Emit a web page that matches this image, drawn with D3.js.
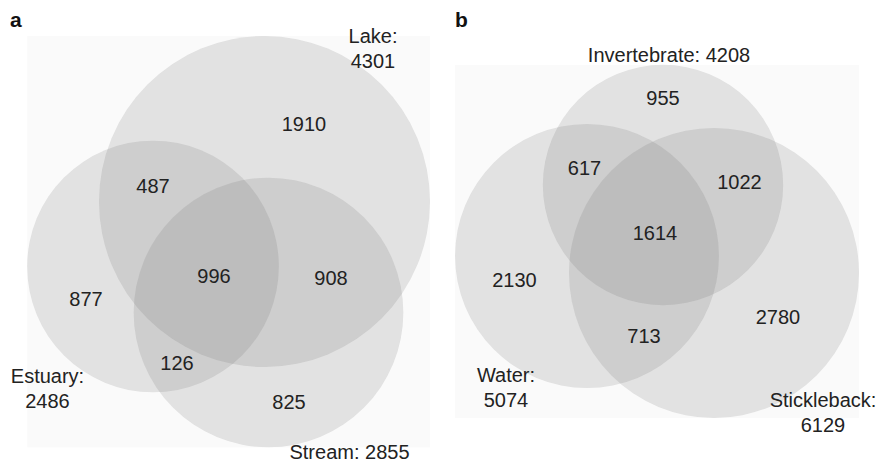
<!DOCTYPE html>
<html><head><meta charset="utf-8">
<script src="https://cdn.jsdelivr.net/npm/d3@7"></script>
<style>html,body{margin:0;padding:0;background:#fff;}svg{display:block;}</style>
</head><body>
<div id="chart"></div>
<script>
// ---- data ----
const setNamesA = ["Lake", "Estuary", "Stream"];
const setTotalsA = [4301, 2486, 2855];
const regionLabelsA = ["1910", "487", "996", "908", "877", "126", "825"];

const setNamesB = ["Invertebrate", "Water", "Stickleback"];
const setTotalsB = [4208, 5074, 6129];
const regionLabelsB = ["955", "617", "1022", "1614", "2130", "2780", "713"];

// ---- layout (positions only) ----
const W = 879, H = 463;
const panels = [
  {
    letter: "a", letterPos: [10, 27],
    names: setNamesA, totals: setTotalsA, regions: regionLabelsA,
    rMax: 165.5,
    centers: [[264.5, 201.5], [153, 266.5], [268.5, 312.5]],
    nameLabels: [
      {lines: ["Lake:", "4301"], x: 373, y: 43},
      {lines: ["Estuary:", "2486"], x: 47.5, y: 383},
      {lines: ["Stream: 2855"], x: 349.5, y: 459}
    ],
    regionPos: [[304, 131], [153, 193], [214, 283], [331, 285], [86, 306], [177, 370], [289, 409]]
  },
  {
    letter: "b", letterPos: [455, 27],
    names: setNamesB, totals: setTotalsB, regions: regionLabelsB,
    rMax: 145,
    centers: [[663, 185], [587, 256], [714, 273]],
    nameLabels: [
      {lines: ["Invertebrate: 4208"], x: 669, y: 62},
      {lines: ["Water:", "5074"], x: 506, y: 382},
      {lines: ["Stickleback:", "6129"], x: 823, y: 407}
    ],
    regionPos: [[663, 105], [584.5, 175], [739.5, 189], [655, 240], [514.5, 287], [778, 324], [644, 343]]
  }
];

const svg = d3.select("#chart").append("svg").attr("width", W).attr("height", H);
const FONT = "'Liberation Sans', Arial, Helvetica, sans-serif";

panels.forEach(p => {
  const g = svg.append("g");
  const r = d3.scaleSqrt().domain([0, d3.max(p.totals)]).range([0, p.rMax]);
  const circles = p.totals.map((t, i) => ({name: p.names[i], total: t, cx: p.centers[i][0], cy: p.centers[i][1], r: r(t)}));
  const x0 = d3.min(circles, c => c.cx - c.r), x1 = d3.max(circles, c => c.cx + c.r);
  const y0 = d3.min(circles, c => c.cy - c.r), y1 = d3.max(circles, c => c.cy + c.r);
  g.append("rect").attr("x", x0).attr("y", y0).attr("width", x1 - x0).attr("height", y1 - y0).attr("fill", "#fafafa");
  g.selectAll("circle").data(circles).join("circle")
    .attr("cx", d => d.cx).attr("cy", d => d.cy).attr("r", d => d.r)
    .attr("fill", "#68686d").attr("fill-opacity", 0.17);
  g.append("text").attr("x", p.letterPos[0]).attr("y", p.letterPos[1])
    .attr("font-family", FONT).attr("font-weight", "bold").attr("font-size", 21).attr("fill", "#111").text(p.letter);
  g.selectAll("text.region").data(p.regions).join("text").attr("class", "region")
    .attr("x", (d, i) => p.regionPos[i][0]).attr("y", (d, i) => p.regionPos[i][1])
    .attr("text-anchor", "middle").attr("font-family", FONT).attr("font-size", 20).attr("fill", "#222")
    .text(d => d);
  p.nameLabels.forEach(nl => {
    const t = g.append("text").attr("text-anchor", "middle").attr("font-family", FONT).attr("font-size", 20).attr("fill", "#222");
    nl.lines.forEach((ln, k) => {
      t.append("tspan").attr("x", nl.x).attr("y", nl.y + k * 24.5).text(ln);
    });
  });
});
</script>
</body></html>
